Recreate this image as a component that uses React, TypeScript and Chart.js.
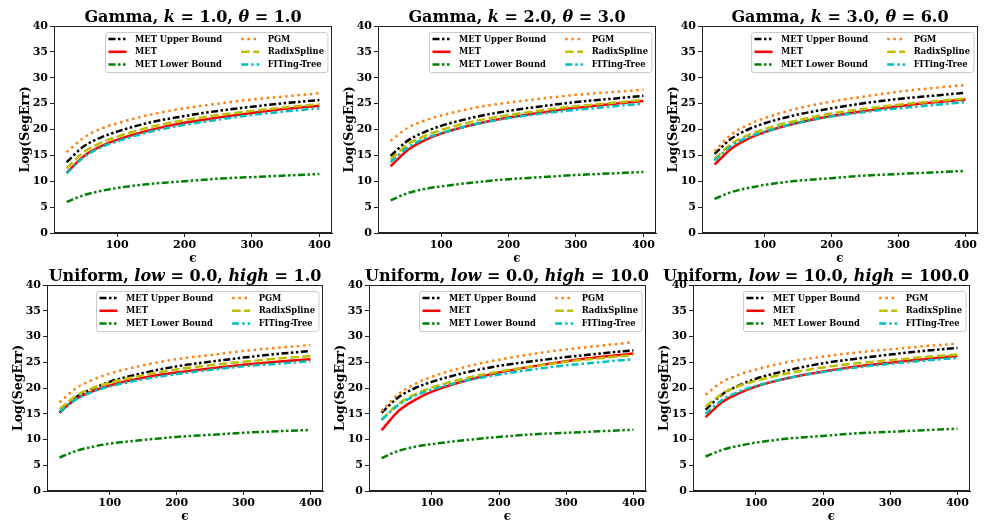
import React, { useEffect, useRef } from 'react';
import { Chart, registerables } from 'chart.js';

Chart.register(...registerables);

// ---------- data ----------
const EPS = [25, 50, 75, 100, 150, 200, 250, 300, 350, 400];
const X_TICKS = [100, 200, 300, 400];
const Y_MIN = 0;
const Y_MAX = 40;
const Y_STEP = 5;
const X_MIN = 6.25;
const X_MAX = 418.75;

const SERIES_NAMES = ['MET Upper Bound', 'MET', 'MET Lower Bound', 'PGM', 'RadixSpline', 'FITing-Tree'];

const TITLES = [
  ['Gamma', 'k', '1.0', 'θ', '1.0'],
  ['Gamma', 'k', '2.0', 'θ', '3.0'],
  ['Gamma', 'k', '3.0', 'θ', '6.0'],
  ['Uniform', 'low', '0.0', 'high', '1.0'],
  ['Uniform', 'low', '0.0', 'high', '10.0'],
  ['Uniform', 'low', '10.0', 'high', '100.0'],
];

// Gamma k=1, theta=1
const G1_UPPER = [13.7, 16.7, 18.4, 19.6, 21.4, 22.6, 23.6, 24.4, 25.1, 25.7];
const G1_MET = [11.6, 14.8, 16.7, 18.0, 19.9, 21.3, 22.3, 23.2, 24.0, 24.6];
const G1_LOWER = [6.0, 7.3, 8.1, 8.7, 9.5, 10.0, 10.5, 10.8, 11.1, 11.4];
const G1_PGM = [15.6, 18.4, 20.1, 21.2, 22.9, 24.1, 25.0, 25.8, 26.4, 27.0];
const G1_RADIX = [12.5, 15.6, 17.4, 18.6, 20.5, 21.8, 22.8, 23.6, 24.3, 24.9];
const G1_FIT = [11.5, 14.6, 16.5, 17.7, 19.6, 20.9, 21.9, 22.8, 23.5, 24.1];

// Gamma k=2, theta=3
const G2_UPPER = [14.9, 17.8, 19.5, 20.7, 22.4, 23.6, 24.5, 25.3, 25.9, 26.5];
const G2_MET = [12.9, 16.0, 17.9, 19.2, 21.0, 22.3, 23.3, 24.2, 24.9, 25.5];
const G2_LOWER = [6.3, 7.7, 8.5, 9.0, 9.8, 10.4, 10.8, 11.2, 11.5, 11.8];
const G2_PGM = [17.8, 20.3, 21.7, 22.7, 24.2, 25.2, 26.0, 26.7, 27.2, 27.7];
const G2_RADIX = [14.2, 17.1, 18.7, 19.9, 21.6, 22.8, 23.7, 24.5, 25.1, 25.7];
const G2_FIT = [13.7, 16.5, 18.2, 19.3, 21.0, 22.2, 23.1, 23.8, 24.4, 25.0];

// Gamma k=3, theta=6
const G3_UPPER = [15.3, 18.2, 20.0, 21.2, 22.9, 24.1, 25.1, 25.9, 26.5, 27.1];
const G3_MET = [13.2, 16.3, 18.2, 19.5, 21.3, 22.6, 23.6, 24.5, 25.2, 25.8];
const G3_LOWER = [6.6, 7.9, 8.7, 9.3, 10.1, 10.6, 11.1, 11.4, 11.7, 12.0];
const G3_PGM = [15.8, 19.0, 20.9, 22.2, 24.1, 25.4, 26.4, 27.3, 28.0, 28.6];
const G3_RADIX = [14.3, 17.2, 18.9, 20.1, 21.8, 23.1, 24.0, 24.8, 25.4, 26.0];
const G3_FIT = [14.0, 16.8, 18.5, 19.6, 21.3, 22.5, 23.4, 24.1, 24.7, 25.3];

// Uniform low=0, high=1
const U1_UPPER = [15.2, 18.2, 19.9, 21.2, 22.9, 24.2, 25.1, 25.9, 26.6, 27.2];
const U1_MET = [15.4, 17.9, 19.4, 20.5, 22.0, 23.0, 23.8, 24.5, 25.1, 25.6];
const U1_LOWER = [6.5, 7.8, 8.6, 9.2, 9.9, 10.5, 10.9, 11.3, 11.6, 11.85];
const U1_PGM = [17.2, 20.0, 21.6, 22.8, 24.4, 25.6, 26.4, 27.2, 27.8, 28.35];
const U1_RADIX = [15.9, 18.5, 20.0, 21.0, 22.5, 23.6, 24.4, 25.1, 25.7, 26.2];
const U1_FIT = [15.4, 17.8, 19.3, 20.3, 21.7, 22.7, 23.5, 24.2, 24.7, 25.2];

// Uniform low=0, high=10
const U2_UPPER = [15.2, 18.2, 20.0, 21.2, 23.0, 24.3, 25.2, 26.0, 26.7, 27.3];
const U2_MET = [11.8, 15.5, 17.7, 19.3, 21.4, 23.0, 24.2, 25.2, 26.0, 26.7];
const U2_LOWER = [6.4, 7.8, 8.6, 9.1, 9.9, 10.5, 11.0, 11.3, 11.6, 11.9];
const U2_PGM = [15.5, 18.8, 20.8, 22.2, 24.1, 25.5, 26.6, 27.5, 28.2, 28.9];
const U2_RADIX = [13.8, 16.9, 18.8, 20.1, 21.9, 23.2, 24.2, 25.1, 25.8, 26.4];
const U2_FIT = [13.8, 16.7, 18.5, 19.7, 21.4, 22.6, 23.6, 24.4, 25.0, 25.6];

// Uniform low=10, high=100
const U3_UPPER = [15.8, 18.8, 20.5, 21.8, 23.5, 24.8, 25.7, 26.5, 27.2, 27.8];
const U3_MET = [14.35, 17.3, 19.0, 20.3, 22.0, 23.2, 24.2, 24.9, 25.6, 26.2];
const U3_LOWER = [6.7, 8.0, 8.8, 9.4, 10.2, 10.7, 11.2, 11.5, 11.8, 12.1];
const U3_PGM = [18.7, 21.2, 22.6, 23.6, 25.1, 26.1, 26.9, 27.5, 28.1, 28.6];
const U3_RADIX = [16.4, 18.9, 20.4, 21.4, 22.9, 24.0, 24.8, 25.4, 26.0, 26.5];
const U3_FIT = [15.0, 17.7, 19.3, 20.4, 22.0, 23.1, 24.0, 24.7, 25.3, 25.85];

const PANEL_DATA = [
  [G1_UPPER, G1_MET, G1_LOWER, G1_PGM, G1_RADIX, G1_FIT],
  [G2_UPPER, G2_MET, G2_LOWER, G2_PGM, G2_RADIX, G2_FIT],
  [G3_UPPER, G3_MET, G3_LOWER, G3_PGM, G3_RADIX, G3_FIT],
  [U1_UPPER, U1_MET, U1_LOWER, U1_PGM, U1_RADIX, U1_FIT],
  [U2_UPPER, U2_MET, U2_LOWER, U2_PGM, U2_RADIX, U2_FIT],
  [U3_UPPER, U3_MET, U3_LOWER, U3_PGM, U3_RADIX, U3_FIT],
];

// ---------- styles & layout ----------
const SERIES_STYLES = [
  { color: '#000000', dash: [7, 2.5, 2.5, 2.5, 2.5, 2.5], order: 5 },
  { color: '#ff0000', dash: [], order: 4 },
  { color: '#008000', dash: [7, 2.5, 2.5, 2.5, 2.5, 2.5], order: 3 },
  { color: '#ff7f0e', dash: [2.5, 3.7], order: 2 },
  { color: '#bfbf00', dash: [8.5, 3.5], order: 1 },
  { color: '#00bfbf', dash: [7, 3, 2.5, 3], order: 0 },
];

// plot-area rectangles in page pixels
const PANEL_BOXES = [
  { L: 54, T: 26, R: 332, B: 233, titleX: 193, titleY: 7 },
  { L: 378, T: 26, R: 656, B: 233, titleX: 517, titleY: 7 },
  { L: 702, T: 26, R: 978, B: 233, titleX: 840, titleY: 7 },
  { L: 47, T: 285, R: 323, B: 491, titleX: 185, titleY: 266 },
  { L: 369, T: 285, R: 646, B: 491, titleX: 507, titleY: 266 },
  { L: 693, T: 285, R: 970, B: 491, titleX: 816, titleY: 266 },
];

const FONT = '"DejaVu Serif", serif';
const YW = 36; // y-axis box width
const XH = 33; // x-axis box height
const PT = 10; // top padding
const PR = 10; // right padding
const LEG_FONT = 8.4;

const frameAndLegend = {
  id: 'frameAndLegend',
  afterDatasetsDraw(chart: any) {
    const ctx = chart.ctx;
    const a = chart.chartArea;
    ctx.save();
    ctx.font = `bold ${LEG_FONT}px ${FONT}`;
    const ds = chart.data.datasets;
    const half = Math.ceil(ds.length / 2);
    const cols = [ds.slice(0, half), ds.slice(half)];
    const widths = cols.map((c: any[]) => Math.max(...c.map((d: any) => ctx.measureText(d.label).width)));
    const padL = 3, sample = 18, gapT = 8.5, colGap = 19, padR = 4;
    const boxW = padL + (sample + gapT) * 2 + widths[0] + colGap + widths[1] + padR;
    const boxH = 40;
    const x0 = Math.round(a.right - 5 - boxW) + 0.5;
    const y0 = Math.round(a.top + 6) + 0.5;
    ctx.beginPath();
    if (ctx.roundRect) ctx.roundRect(x0, y0, boxW, boxH, 2.5);
    else ctx.rect(x0, y0, boxW, boxH);
    ctx.fillStyle = 'rgba(255,255,255,0.8)';
    ctx.fill();
    ctx.strokeStyle = '#cccccc';
    ctx.lineWidth = 1;
    ctx.stroke();
    cols.forEach((c: any[], ci: number) => {
      const sx = ci === 0 ? x0 + padL : x0 + padL + sample + gapT + widths[0] + colGap;
      c.forEach((d: any, ri: number) => {
        const y = y0 + 6.5 + ri * 12.8;
        ctx.beginPath();
        ctx.setLineDash(d.borderDash || []);
        ctx.strokeStyle = d.borderColor;
        ctx.lineWidth = d.borderWidth;
        ctx.lineCap = 'butt';
        ctx.moveTo(sx, y);
        ctx.lineTo(sx + sample, y);
        ctx.stroke();
        ctx.setLineDash([]);
        ctx.fillStyle = '#000';
        ctx.textBaseline = 'middle';
        ctx.textAlign = 'left';
        ctx.fillText(d.label, sx + sample + gapT, y + 0.5);
      });
    });
    ctx.restore();
  },
  afterDraw(chart: any) {
    const ctx = chart.ctx;
    const a = chart.chartArea;
    ctx.save();
    ctx.strokeStyle = '#222';
    ctx.lineWidth = 1;
    ctx.strokeRect(a.left + 0.5, a.top + 0.5, a.right - a.left - 1, a.bottom - a.top - 1);
    ctx.restore();
  },
};

function Panel({ index }: { index: number }) {
  const ref = useRef<HTMLCanvasElement>(null);
  const box = PANEL_BOXES[index];
  const width = box.R - box.L + YW + PR;
  const height = box.B - box.T + PT + XH;

  useEffect(() => {
    const datasets = SERIES_NAMES.map((name, si) => ({
      label: name,
      data: EPS.map((x, i) => ({ x, y: PANEL_DATA[index][si][i] })),
      borderColor: SERIES_STYLES[si].color,
      backgroundColor: SERIES_STYLES[si].color,
      borderDash: SERIES_STYLES[si].dash,
      borderWidth: 2.5,
      borderCapStyle: 'butt',
      pointRadius: 0,
      fill: false,
      cubicInterpolationMode: 'monotone',
      order: SERIES_STYLES[si].order,
    }));
    const chart = new Chart(ref.current as HTMLCanvasElement, {
      type: 'line',
      data: { datasets } as any,
      plugins: [frameAndLegend],
      options: {
        animation: false,
        responsive: false,
        maintainAspectRatio: false,
        layout: { padding: { top: PT, right: PR, left: 0, bottom: 0 } },
        plugins: { legend: { display: false }, tooltip: { enabled: false } },
        scales: {
          x: {
            type: 'linear',
            min: X_MIN,
            max: X_MAX,
            afterBuildTicks: (s: any) => {
              s.ticks = X_TICKS.map((v) => ({ value: v }));
            },
            afterFit: (s: any) => {
              s.height = XH;
            },
            grid: { drawOnChartArea: false, tickLength: 4, color: '#222', tickWidth: 1 },
            border: { display: true, color: '#222', width: 1 },
            ticks: {
              color: '#000',
              padding: 2,
              maxRotation: 0,
              font: { family: FONT, weight: 'bold', size: 11 },
            },
            title: {
              display: true,
              text: 'ϵ',
              color: '#000',
              padding: 0,
              font: { family: FONT, weight: 'bold', size: 12 },
            },
          },
          y: {
            min: Y_MIN,
            max: Y_MAX,
            afterFit: (s: any) => {
              s.width = YW;
            },
            grid: { drawOnChartArea: false, tickLength: 4, color: '#222', tickWidth: 1 },
            border: { display: true, color: '#222', width: 1 },
            ticks: {
              stepSize: Y_STEP,
              color: '#000',
              padding: 2,
              font: { family: FONT, weight: 'bold', size: 11 },
            },
            title: {
              display: true,
              text: 'Log(SegErr)',
              color: '#000',
              padding: 0,
              font: { family: FONT, weight: 'bold', size: 12.5 },
            },
          },
        },
      } as any,
    });
    return () => chart.destroy();
  }, [index]);

  const t = TITLES[index];
  return (
    <>
      <canvas
        ref={ref}
        width={width}
        height={height}
        style={{ position: 'absolute', left: box.L - YW, top: box.T - PT, width, height }}
      />
      <div
        style={{
          position: 'absolute',
          left: box.titleX - 250,
          width: 500,
          top: box.titleY,
          textAlign: 'center',
          fontFamily: FONT,
          fontWeight: 'bold',
          fontSize: 16,
          lineHeight: '20px',
          whiteSpace: 'nowrap',
          color: '#000',
          pointerEvents: 'none',
        }}
      >
        {t[0]}, <i>{t[1]}</i> = {t[2]}, <i>{t[3]}</i> = {t[4]}
      </div>
    </>
  );
}

export default function App() {
  return (
    <div
      style={{
        position: 'fixed',
        left: 0,
        top: 0,
        width: 986,
        height: 525,
        overflow: 'hidden',
        background: '#fff',
      }}
    >
      {PANEL_BOXES.map((_, i) => (
        <Panel key={i} index={i} />
      ))}
    </div>
  );
}
